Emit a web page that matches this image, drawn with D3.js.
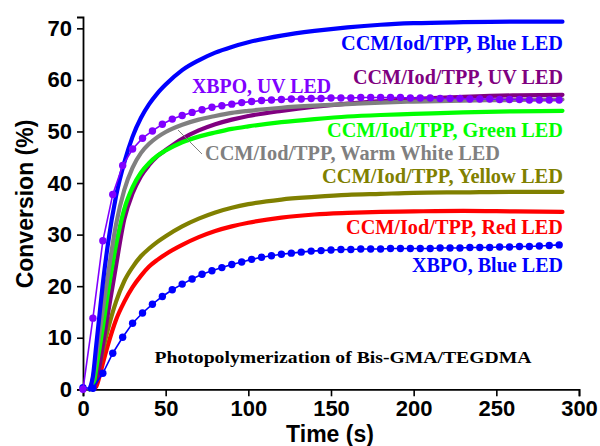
<!DOCTYPE html>
<html>
<head>
<meta charset="utf-8">
<script src="https://cdn.jsdelivr.net/npm/d3@7"></script>
<style>
  body { margin: 0; background: #fff; }
  svg { display: block; }
</style>
</head>
<body>
<div id="chart"></div>
<script>
// Time grid for the CCM/Iod/TPP curves (s)
const ccmTime = [0, 4, 6, 8, 10, 12, 15, 20, 25, 30, 35, 40, 45, 50, 60, 70, 80, 90, 100, 120, 140, 160, 180, 200, 230, 260, 290];

const ccmBlue   = [0, 0, 2.5, 8.5, 14.5, 20.5, 28, 37.5, 44, 49, 52.6, 55.3, 57.4, 59.1, 61.9, 63.8, 65.3, 66.4, 67.3, 68.6, 69.5, 70.2, 70.7, 71.0, 71.2, 71.3, 71.3];
const ccmUV     = [0, 0, 0, 1.5, 4.5, 8.5, 14.5, 24, 33, 38, 41.3, 43.5, 45.2, 46.4, 48.6, 50.2, 51.4, 52.3, 53.0, 54.0, 54.8, 55.4, 55.9, 56.3, 56.7, 57.0, 57.1];
const ccmGreen  = [0, 0, 0.5, 4, 8, 12, 18.5, 28, 35, 39.2, 42, 43.9, 45.3, 46.3, 47.9, 49.0, 49.8, 50.5, 51.0, 51.8, 52.4, 52.9, 53.2, 53.4, 53.7, 53.9, 54.0];
const ccmWhite  = [0, 0, 2, 6.5, 11, 15.5, 22, 32, 38.7, 43, 45.8, 47.6, 48.9, 49.9, 51.3, 52.3, 53.0, 53.6, 54.0, 54.6, 55.0, 55.3, 55.6, 55.8, 56.0, 56.1, 56.2];
const ccmYellow = [0, 0, 0.5, 2, 4.5, 7.5, 11.5, 17, 21, 23.7, 25.8, 27.3, 28.6, 29.7, 31.6, 33.1, 34.3, 35.2, 35.9, 36.8, 37.3, 37.7, 37.9, 38.1, 38.2, 38.3, 38.3];
const ccmRed    = [0, 0, 0, 0.5, 2.5, 5, 8.5, 13.5, 17, 19.8, 22, 23.8, 25.1, 26.2, 28.0, 29.5, 30.7, 31.6, 32.3, 33.3, 33.9, 34.2, 34.4, 34.5, 34.6, 34.5, 34.4];

// XBPO curves, one point every 6 s
const xbpoTime = [0, 6, 12, 18, 24, 30, 36, 42, 48, 54, 60, 66, 72, 78, 84, 90, 96, 102, 108, 114, 120, 126, 132, 138, 144, 150, 156, 162, 168, 174, 180, 186, 192, 198, 204, 210, 216, 222, 228, 234, 240, 246, 252, 258, 264, 270, 276, 282, 288];
const xbpoUV   = [0, 13.8, 28.8, 37.8, 43.4, 46.6, 48.7, 50.1, 51.4, 52.4, 53.1, 53.7, 54.2, 54.7, 55.0, 55.3, 55.6, 55.8, 56.0, 56.1, 56.2, 56.3, 56.3, 56.4, 56.4, 56.5, 56.5, 56.5, 56.6, 56.6, 56.6, 56.6, 56.6, 56.5, 56.5, 56.5, 56.4, 56.4, 56.4, 56.3, 56.3, 56.3, 56.2, 56.2, 56.2, 56.1, 56.1, 56.1, 56.1];
const xbpoBlue = [0.3, 0.2, 3.1, 7.0, 10.1, 12.8, 14.8, 16.5, 18.0, 19.3, 20.4, 21.4, 22.3, 23.0, 23.6, 24.2, 24.7, 25.2, 25.6, 25.9, 26.2, 26.4, 26.6, 26.8, 26.9, 27.0, 27.1, 27.1, 27.2, 27.2, 27.2, 27.3, 27.3, 27.3, 27.3, 27.3, 27.4, 27.4, 27.4, 27.5, 27.5, 27.5, 27.6, 27.6, 27.7, 27.7, 27.8, 27.9, 28.0];

const xTicks = [0, 50, 100, 150, 200, 250, 300];
const yTicks = [0, 10, 20, 30, 40, 50, 60, 70];

const width = 600, height = 446;

const svg = d3.select("#chart")
    .append("svg")
    .attr("width", width)
    .attr("height", height);

const x = d3.scaleLinear().domain([0, 300]).range([83, 579]);
const y = d3.scaleLinear().domain([0, 72.2]).range([389.3, 17]);

const sans = "'Liberation Sans', Arial, sans-serif";
const serif = "'Liberation Serif', 'Times New Roman', serif";

// X axis
const xAxis = svg.append("g")
    .attr("transform", "translate(0," + y(0) + ")");
xAxis.call(d3.axisBottom(x).tickValues(d3.range(25, 300, 50)).tickSize(4).tickFormat(""));
xAxis.call(d3.axisBottom(x).tickValues(xTicks).tickSize(7).tickPadding(4).tickFormat(d3.format("d")));
xAxis.selectAll(".domain").attr("stroke-width", 1.8);
xAxis.selectAll("line").attr("stroke-width", 1.6);
xAxis.selectAll("text").style("font-family", sans).style("font-weight", "bold").style("font-size", "22px").attr("fill", "#000");

// Y axis
const yAxis = svg.append("g")
    .attr("transform", "translate(" + x(0) + ",0)");
yAxis.call(d3.axisLeft(y).tickValues(d3.range(5, 70, 10)).tickSize(4).tickFormat(""));
yAxis.call(d3.axisLeft(y).tickValues(yTicks).tickSize(6).tickPadding(5).tickFormat(d3.format("d")));
yAxis.selectAll(".domain").attr("stroke-width", 1.8);
yAxis.selectAll("line").attr("stroke-width", 1.6);
yAxis.selectAll("text").style("font-family", sans).style("font-weight", "bold").style("font-size", "22px").attr("fill", "#000");

// Axis titles
svg.append("text")
    .attr("x", 330)
    .attr("y", 442)
    .attr("text-anchor", "middle")
    .style("font-family", sans).style("font-weight", "bold").style("font-size", "23px")
    .text("Time (s)");

svg.append("text")
    .attr("transform", "translate(33,204) rotate(-90)")
    .attr("text-anchor", "middle")
    .style("font-family", sans).style("font-weight", "bold").style("font-size", "23px")
    .text("Conversion (%)");

// Curves
const line = d3.line()
    .x((d) => x(d.t))
    .y((d) => y(d.v))
    .curve(d3.curveMonotoneX);

const ccmSeries = [
    {values: ccmRed, colour: "#ff0000"},
    {values: ccmYellow, colour: "#808000"},
    {values: ccmUV, colour: "#800080"},
    {values: ccmGreen, colour: "#00ff00"},
    {values: ccmWhite, colour: "#808080"},
    {values: ccmBlue, colour: "#0000ff"}
];

ccmSeries.forEach(function(s) {
    let pts = ccmTime.map((t, i) => ({t: t, v: s.values[i]}));
    // drop the flat lead-in, keep only the last zero before the rise
    pts = pts.filter((d, i) => !(d.v == 0 && i + 1 < pts.length && pts[i + 1].v == 0));
    svg.append("path")
        .datum(pts)
        .attr("d", line)
        .attr("fill", "none")
        .attr("stroke", s.colour)
        .attr("stroke-width", 4.2)
        .attr("stroke-linecap", "round");
});

const xbpoSeries = [
    {values: xbpoBlue, colour: "#0000ff"},
    {values: xbpoUV, colour: "#8000ff"}
];

xbpoSeries.forEach(function(s) {
    let pts = xbpoTime.map((t, i) => ({t: t, v: s.values[i]}));
    svg.append("path")
        .datum(pts)
        .attr("d", d3.line().x((d) => x(d.t)).y((d) => y(d.v)))
        .attr("fill", "none")
        .attr("stroke", s.colour)
        .attr("stroke-width", 1.6);
    svg.append("g")
        .selectAll("circle")
        .data(pts)
        .enter()
        .append("circle")
        .attr("cx", (d) => x(d.t))
        .attr("cy", (d) => y(d.v))
        .attr("r", 3.7)
        .attr("fill", s.colour);
});

// Leader line for the warm white label
svg.append("line")
    .attr("x1", 178).attr("y1", 130)
    .attr("x2", 202).attr("y2", 154)
    .attr("stroke", "#808080")
    .attr("stroke-width", 1);

// Curve labels (len = measured width of the text)
const labels = [
    {text: "CCM/Iod/TPP, Blue LED", colour: "#0000ff", x: 563, y: 50, len: 222},
    {text: "CCM/Iod/TPP, UV LED", colour: "#800080", x: 563, y: 84, len: 210},
    {text: "XBPO, UV LED", colour: "#8000ff", x: 331, y: 93, len: 139},
    {text: "CCM/Iod/TPP, Green LED", colour: "#00ff00", x: 563, y: 136.5, len: 236},
    {text: "CCM/Iod/TPP, Warm White LED", colour: "#808080", x: 500, y: 160, len: 295},
    {text: "CCM/Iod/TPP, Yellow LED", colour: "#808000", x: 563, y: 183, len: 241},
    {text: "CCM/Iod/TPP, Red LED", colour: "#ff0000", x: 563, y: 234, len: 217},
    {text: "XBPO, Blue LED", colour: "#0000ff", x: 563, y: 271.5, len: 151},
    {text: "Photopolymerization of Bis-GMA/TEGDMA", colour: "#000000", x: 531.5, y: 363, len: 377}
];

svg.append("g")
    .selectAll("text")
    .data(labels)
    .enter()
    .append("text")
    .attr("x", (d) => d.x)
    .attr("y", (d) => d.y)
    .attr("text-anchor", "end")
    .attr("textLength", (d) => d.len)
    .attr("lengthAdjust", "spacingAndGlyphs")
    .attr("fill", (d) => d.colour)
    .style("font-family", serif)
    .style("font-weight", "bold")
    .style("font-size", (d) => d.colour == "#000000" ? "17.5px" : "20px")
    .text((d) => d.text);
</script>
</body>
</html>
